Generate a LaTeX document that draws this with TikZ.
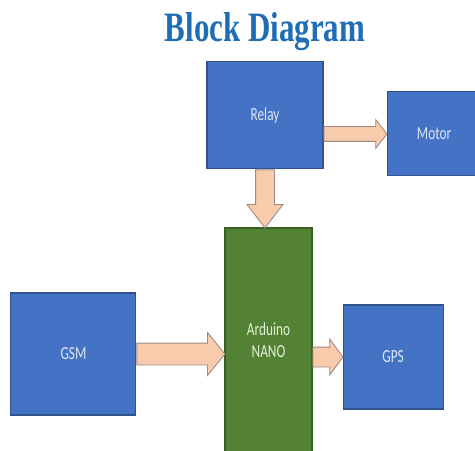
\documentclass[tikz,border=0pt]{standalone}
\usepackage{fontspec}
\setmainfont{Carlito}
\newfontfamily\titlefont[FakeStretch=0.74]{Liberation Serif}
\newfontfamily\boxfont[FakeStretch=0.72]{Carlito}
\usepackage{xcolor}
\usetikzlibrary{shapes,arrows,positioning,calc}
\definecolor{boxblue}{HTML}{4472C4}
\definecolor{boxedge}{HTML}{2F528F}
\definecolor{boxtext}{HTML}{DDE6F5}
\definecolor{nanogreen}{HTML}{548235}
\definecolor{nanoedge}{HTML}{3B5E26}
\definecolor{nanotext}{HTML}{E2F0D9}
\definecolor{arrowfill}{HTML}{F8CBAD}
\definecolor{arrowedge}{HTML}{9C8A80}
\definecolor{titleblue}{HTML}{1F6EB5}

\begin{document}
\begin{tikzpicture}[
    box/.style={rectangle, draw=boxedge, fill=boxblue, line width=0.6pt, inner sep=0pt, align=center, text=boxtext, font=\boxfont\fontsize{10.5}{12.5}\selectfont},
    nanobox/.style={box, draw=nanoedge, fill=nanogreen, text=nanotext},
    heading/.style={font=\titlefont\bfseries\fontsize{23.8}{28}\selectfont, text=titleblue},
    bigarrow/.style={single arrow, draw=arrowedge, fill=arrowfill, line width=0.5pt, inner sep=#1}
]
    \useasboundingbox (0,0) rectangle (9.5,-9);
    \clip (0,0) rectangle (9.5,-9);

    \node[heading] (title) at (5.30,-0.64) {Block Diagram};
    \node[nanobox, minimum width=1.74cm, minimum height=4.48cm] (nano) at (5.37,-6.80) {Arduino\\NANO};
    \node[box, minimum width=2.32cm, minimum height=2.14cm, above=1.16cm of nano, xshift=-0.07cm] (relay) {Relay};
    \node[box, minimum width=1.88cm, minimum height=1.68cm, right=1.26cm of relay, yshift=-0.37cm] (motor) {Motor};
    \node[box, minimum width=2.5cm, minimum height=2.44cm, left=1.76cm of nano, yshift=-0.28cm] (gsm) {GSM};
    \node[box, minimum width=2.0cm, minimum height=2.08cm, right=0.6cm of nano, yshift=-0.34cm] (gps) {GPS};

    \path let \p1=(relay.east), \p2=(motor.west) in
        node[bigarrow=0.14cm, single arrow head extend=0.14cm, single arrow tip angle=104, minimum height=\x2-\x1, anchor=tail] (relaymotor) at (\x1,\y2) {};
    \path let \p1=(relay.south), \p2=(nano.north) in
        node[bigarrow=0.18cm, single arrow head extend=0.17cm, single arrow tip angle=75, shape border rotate=270, minimum height=\y1-\y2, anchor=tail] (relaynano) at (\x1,\y1) {};
    \path let \p1=(gsm.east), \p2=(nano.west) in
        node[bigarrow=0.21cm, single arrow head extend=0.21cm, single arrow tip angle=102, minimum height=\x2-\x1, anchor=tail] (gsmnano) at (\x1,\y1) {};
    \path let \p1=(nano.east), \p2=(gps.west) in
        node[bigarrow=0.19cm, single arrow head extend=0.16cm, single arrow tip angle=107, minimum height=\x2-\x1, anchor=tail] (nanogps) at (\x1,\y2) {};
\end{tikzpicture}
\end{document}
